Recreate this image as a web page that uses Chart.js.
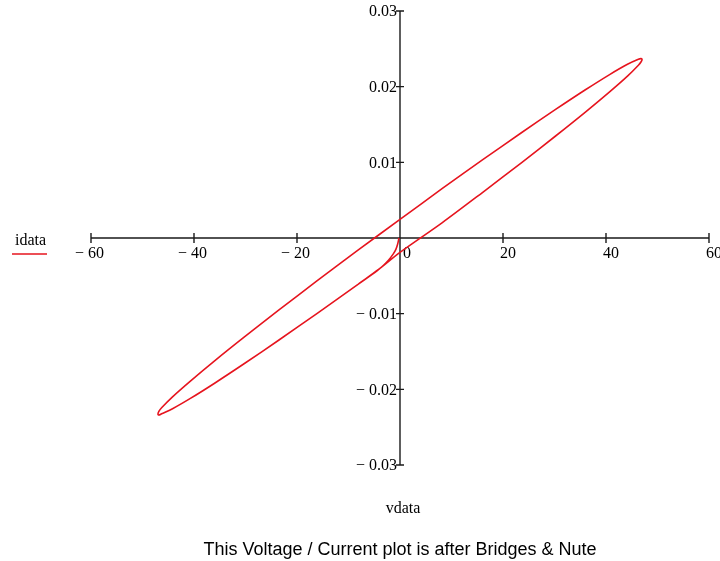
<!DOCTYPE html>
<html>
<head>
<meta charset="utf-8">
<script src="https://cdn.jsdelivr.net/npm/chart.js@4"></script>
<style>
  body { margin: 0; background: #fff; }
  #wrap { width: 720px; height: 561px; position: relative; }
</style>
</head>
<body>
<div id="wrap"><canvas id="myChart"></canvas></div>
<script>
// 坐标轴刻度
const xTicks = [-60, -40, -20, 0, 20, 40, 60];
const xTickLabels = ['\u2212 60', '\u2212 40', '\u2212 20', '0', '20', '40', '60'];
const yTicks = [0.03, 0.02, 0.01, -0.01, -0.02, -0.03];
const yTickLabels = ['0.03', '0.02', '0.01', '\u2212 0.01', '\u2212 0.02', '\u2212 0.03'];

// 曲线数据: 起始瞬态 + 一整圈
const vdata = [
  -0.2, -0.45, -0.8, -1.3, -2.2, -3.2, -4.4,
  -8.16, -16.07, -23.5, -30.21, -36.0, -40.70, -44.17, -46.29, -46.82, -47.0, -46.82, -46.29,
  -44.17, -40.70, -36.0, -30.21, -23.5, -16.07, -8.16, 0, 8.16, 16.07, 23.5, 30.21, 36.0,
  40.70, 44.17, 46.29, 46.82, 47.0, 46.82, 46.29, 44.17, 40.70, 36.0, 30.21, 23.5, 16.07,
  8.16, 0, -4.10, -8.16
];
const idata = [
  0.0, -0.0008, -0.0015, -0.0021, -0.0029, -0.0036, -0.0043,
  -0.00612, -0.00995, -0.01348, -0.01659, -0.01919, -0.0212, -0.02256, -0.02323, -0.0234, -0.02329, -0.0229, -0.02243,
  -0.02099, -0.01891, -0.01624, -0.01308, -0.00951, -0.00564, -0.0016, 0.00245, 0.00652, 0.01035, 0.01388, 0.01699, 0.01959,
  0.0216, 0.02296, 0.02363, 0.0237, 0.02359, 0.0233, 0.02283, 0.02139, 0.01931, 0.01664, 0.01348, 0.00991, 0.00604,
  0.0020, -0.0019, -0.00412, -0.00612
];

const points = vdata.map((v, k) => ({ x: v, y: idata[k] }));

// 画 Mathcad 风格的十字坐标轴和文字
const axesPlugin = {
  id: 'crossAxes',
  beforeDatasetsDraw(chart) {
    const ctx = chart.ctx;
    const xs = chart.scales.x;
    const ys = chart.scales.y;
    const x0 = xs.getPixelForValue(0);
    const y0 = ys.getPixelForValue(0);
    ctx.save();
    ctx.strokeStyle = '#1a1a1a';
    ctx.lineWidth = 1.4;
    ctx.beginPath();
    ctx.moveTo(xs.getPixelForValue(-60), y0);
    ctx.lineTo(xs.getPixelForValue(60), y0);
    ctx.moveTo(x0, ys.getPixelForValue(0.03));
    ctx.lineTo(x0, ys.getPixelForValue(-0.03));
    xTicks.forEach(t => {
      const px = xs.getPixelForValue(t);
      ctx.moveTo(px, y0 - 5);
      ctx.lineTo(px, y0 + 5);
    });
    yTicks.forEach(t => {
      const py = ys.getPixelForValue(t);
      ctx.moveTo(x0 - 4, py);
      ctx.lineTo(x0 + 4, py);
    });
    ctx.stroke();

    ctx.fillStyle = '#000';
    ctx.font = '16px "Liberation Serif", "Times New Roman", serif';
    ctx.textBaseline = 'alphabetic';
    xTicks.forEach((t, k) => {
      const px = xs.getPixelForValue(t);
      const digits = String(Math.abs(t));
      const w = ctx.measureText(digits).width;
      ctx.textAlign = 'right';
      const start = t === 0 ? px + 3 : px - 3;
      ctx.fillText(xTickLabels[k], start + w, y0 + 20);
    });
    ctx.textAlign = 'right';
    ctx.textBaseline = 'middle';
    yTicks.forEach((t, k) => {
      const py = ys.getPixelForValue(t);
      ctx.fillText(yTickLabels[k], x0 - 3, py + 1);
    });
    ctx.restore();
  },
  afterDraw(chart) {
    const ctx = chart.ctx;
    ctx.save();
    ctx.fillStyle = '#000';
    ctx.font = '16px "Liberation Serif", "Times New Roman", serif';
    ctx.textAlign = 'left';
    ctx.textBaseline = 'alphabetic';
    ctx.fillText('idata', 15, 245);
    ctx.strokeStyle = 'rgb(230, 20, 30)';
    ctx.lineWidth = 1.5;
    ctx.beginPath();
    ctx.moveTo(12, 254);
    ctx.lineTo(47, 254);
    ctx.stroke();
    ctx.textAlign = 'center';
    ctx.fillText('vdata', 403, 513);
    ctx.font = '18px "Liberation Sans", Arial, sans-serif';
    ctx.fillText('This Voltage / Current plot is after Bridges & Nute', 400, 555);
    ctx.restore();
  }
};

const ctx = document.getElementById('myChart').getContext('2d');
const chart = new Chart(ctx, {
  type: 'scatter',
  data: {
    datasets: [{
      label: 'idata',
      data: points,
      showLine: true,
      borderColor: 'rgb(230, 20, 30)',
      borderWidth: 1.6,
      pointRadius: 0,
      tension: 0.3,
      fill: false
    }]
  },
  options: {
    responsive: true,
    maintainAspectRatio: false,
    animation: false,
    layout: { padding: { left: 91, right: 11, top: 11, bottom: 96 } },
    scales: {
      x: { type: 'linear', min: -60, max: 60, display: false },
      y: { type: 'linear', min: -0.03, max: 0.03, display: false }
    },
    plugins: {
      legend: { display: false },
      tooltip: { enabled: false }
    }
  },
  plugins: [axesPlugin]
});
</script>
</body>
</html>
